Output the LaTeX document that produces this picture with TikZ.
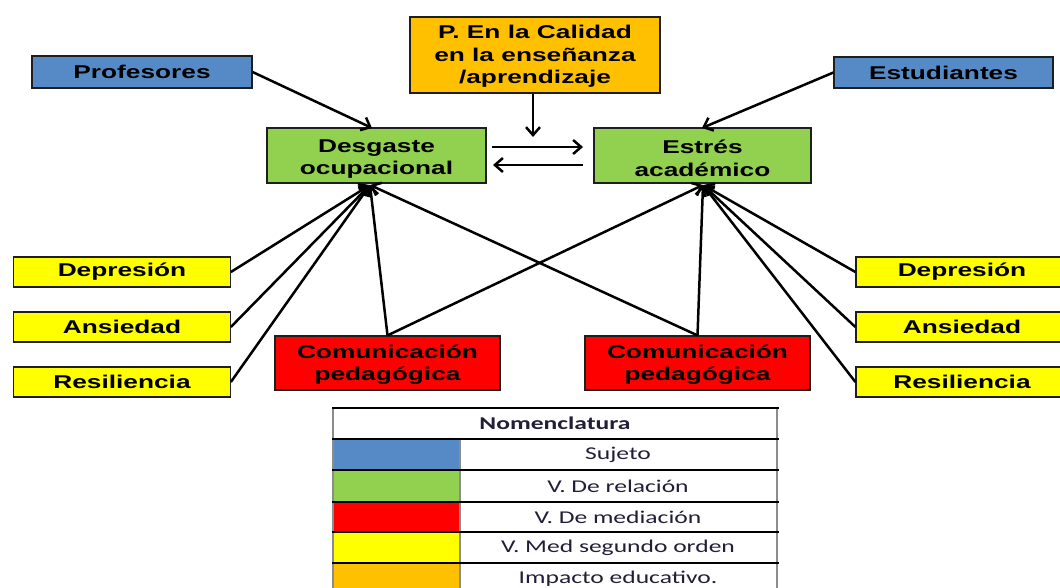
\documentclass[tikz,border=0pt]{standalone}
\usepackage{fontspec}
\setmainfont{Liberation Sans}
\newfontfamily\boxfont{Liberation Sans}[FakeStretch=1.42]
\newfontfamily\legfont{Carlito}[FakeStretch=1.42]
\usetikzlibrary{arrows.meta}
\definecolor{cblue}{RGB}{86,138,198}
\definecolor{cgreen}{RGB}{146,208,80}
\definecolor{cred}{RGB}{255,0,0}
\definecolor{cyellow}{RGB}{255,255,0}
\definecolor{corange}{RGB}{255,192,0}
\definecolor{cborder}{RGB}{30,30,30}
\definecolor{cleg}{RGB}{35,30,55}
\definecolor{cgrid}{RGB}{140,140,140}
\tikzset{
  bx/.style={draw=cborder, line width=1.2pt, inner sep=0pt, align=center,
    font=\boxfont\bfseries\fontsize{18.5}{22.5}\selectfont, text=black},
  txt/.style={align=center, inner sep=0pt,
    font=\boxfont\bfseries\fontsize{18.5}{22.5}\selectfont, text=black},
  arr/.style={line width=2.5pt, draw=black, -{Straight Barb[length=8pt,width=14pt]}},
  legtxt/.style={font=\legfont\fontsize{18}{20}\selectfont, text=cleg, inner sep=0pt},
  hline/.style={line width=1.3pt, draw=black},
  vline/.style={line width=2.5pt, draw=cgrid}
}
\begin{document}
\begin{tikzpicture}[x=1pt,y=-1pt]
\clip (0,0) rectangle (1060,587);
\fill[white] (0,0) rectangle (1060,587);

% top row
\node[bx, fill=cblue, minimum width=220pt, minimum height=32pt] (prof) at (142,72) {Profesores};
\node[bx, fill=cblue, minimum width=219pt, minimum height=31pt] (estu) at (943.5,72.5) {Estudiantes};
\node[bx, fill=corange, minimum width=250pt, minimum height=76pt,
  label={[txt, yshift=-1.5pt]center:P. En la Calidad\\en la enseñanza\\/aprendizaje}] (pcal) at (535,55) {};

% green
\node[bx, fill=cgreen, minimum width=219pt, minimum height=55pt,
  label={[txt, yshift=-3.5pt]center:Desgaste\\ocupacional}] (desg) at (376.5,155.5) {};
\node[bx, fill=cgreen, minimum width=217pt, minimum height=55pt,
  label={[txt, yshift=-3pt]center:Estrés\\académico}] (estr) at (702.5,155.5) {};

% yellow left
\node[bx, fill=cyellow, minimum width=216.5pt, minimum height=30pt] (dl) at (122,272) {Depresión};
\node[bx, fill=cyellow, minimum width=216.5pt, minimum height=30pt] (al) at (122,327) {Ansiedad};
\node[bx, fill=cyellow, minimum width=216.5pt, minimum height=30pt] (rl) at (122,382) {Resiliencia};
% yellow right
\node[bx, fill=cyellow, minimum width=212pt, minimum height=30pt] (dr) at (962,272) {Depresión};
\node[bx, fill=cyellow, minimum width=212pt, minimum height=30pt] (ar) at (962,327) {Ansiedad};
\node[bx, fill=cyellow, minimum width=212pt, minimum height=30pt] (rr) at (962,382) {Resiliencia};

% red
\node[bx, fill=cred, minimum width=225pt, minimum height=54pt,
  label={[txt, yshift=-1.5pt]center:Comunicación\\pedagógica}] (cl) at (387.5,363) {};
\node[bx, fill=cred, minimum width=225pt, minimum height=54pt,
  label={[txt, yshift=-1.5pt]center:Comunicación\\pedagógica}] (cr) at (697.5,363) {};

% coordinates
\coordinate (dbot) at (370,185);
\coordinate (ebot) at (703,185);
\coordinate (dtop) at (372,128);
\coordinate (etop) at (702,128);
\coordinate (v2) at (533,137);
\coordinate (h1) at (492,147);
\coordinate (h2) at (583,147);
\coordinate (h3) at (583,165);
\coordinate (h4) at (493,165);

% arrows
\draw[arr] (prof.east) -- (dtop);
\draw[arr] (estu.west) -- (etop);
\draw[arr] ([xshift=-2pt]pcal.south) -- (v2);
\draw[arr] (h1) -- (h2);
\draw[arr] (h3) -- (h4);

\draw[arr] (dl.east) -- (dbot);
\draw[arr] (al.east) -- (dbot);
\draw[arr] (rl.east) -- (dbot);
\draw[arr] (cl.north) -- (dbot);
\draw[arr] (cr.north) -- (dbot);

\draw[arr] (dr.west) -- (ebot);
\draw[arr] (ar.west) -- (ebot);
\draw[arr] (rr.west) -- (ebot);
\draw[arr] (cr.north) -- (ebot);
\draw[arr] (cl.north) -- (ebot);

% legend
\fill[cblue] (333,439) rectangle (460,470);
\fill[cgreen] (333,470) rectangle (460,502);
\fill[cred] (333,502) rectangle (460,532);
\fill[cyellow] (333,532) rectangle (460,563);
\fill[corange] (333,563) rectangle (460,600);
\draw[vline] (333,408) -- (333,600);
\draw[vline] (777,408) -- (777,600);
\draw[vline] (460,439) -- (460,600);
\foreach \yy in {408,439,470,502,532,563} {\draw[hline] (332,\yy) -- (779,\yy);}
\node[legtxt, font=\legfont\bfseries\fontsize{18}{20}\selectfont] (lh) at (555,423.5) {Nomenclatura};
\node[legtxt] (l1) at (618,454.5) {Sujeto};
\node[legtxt] (l2) at (618,486) {V. De relación};
\node[legtxt] (l3) at (618,517) {V. De mediación};
\node[legtxt] (l4) at (618,547.5) {V. Med segundo orden};
\node[legtxt] (l5) at (618,578.5) {Impacto educativo.};
\end{tikzpicture}
\end{document}
